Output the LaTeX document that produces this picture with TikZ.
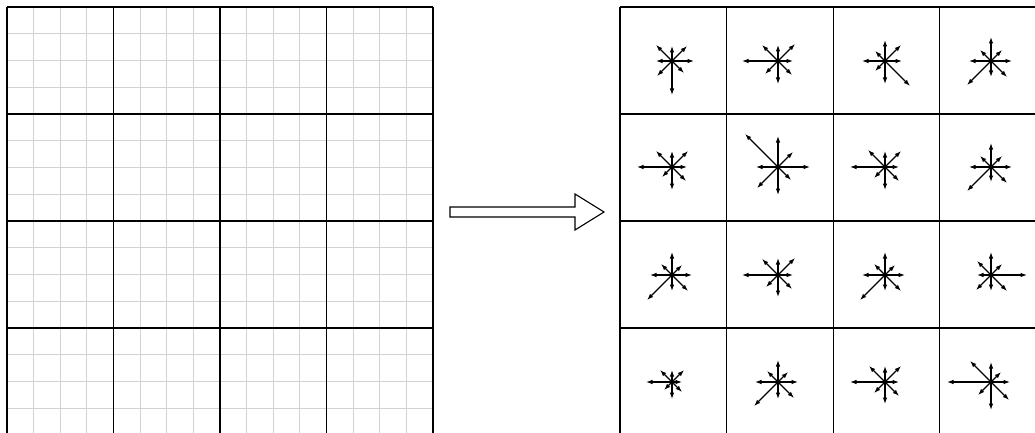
\documentclass[tikz,border=0pt]{standalone}
\usetikzlibrary{arrows.meta}

\begin{document}
\begin{tikzpicture}[
    x=1pt, y=-1pt,
    fine/.style={gray!35, line width=0.8pt},
    major/.style={black, line width=1.3pt},
    vel/.style={-{Latex[length=6.5pt,width=4.6pt]}, line width=1.2pt},
    bigarrow/.style={draw=black, line width=1.1pt, fill=white}
]

\useasboundingbox (0,0) rectangle (1035,433);
\clip (0,0) rectangle (1035,433);

\newcommand{\velstar}[9]{%
    \begin{scope}[shift={(#1)}]
        \draw[vel] (0,0) -- (#2,0);
        \draw[vel] (0,0) -- (#3,-#3);
        \draw[vel] (0,0) -- (0,-#4);
        \draw[vel] (0,0) -- (-#5,-#5);
        \draw[vel] (0,0) -- (-#6,0);
        \draw[vel] (0,0) -- (-#7,#7);
        \draw[vel] (0,0) -- (0,#8);
        \draw[vel] (0,0) -- (#9,#9);
    \end{scope}
}

% left: fine grid
\foreach \i in {0,...,16}{
    \draw[fine] ({7+26.625*\i},7) -- ({7+26.625*\i},440);
    \draw[fine] (7,{7+26.75*\i}) -- (433,{7+26.75*\i});
}
% left: coarse cells
\foreach \i in {0,...,4}{
    \draw[major] ({7+106.5*\i},7) -- ({7+106.5*\i},440);
    \draw[major] (7,{7+107*\i}) -- (433,{7+107*\i});
}

% hollow arrow
\draw[bigarrow] (450,207) -- (575,207) -- (575,194) -- (604,212)
    -- (575,230) -- (575,217) -- (450,217) -- cycle;

% right: coarse cells
\foreach \i in {0,...,4}{
    \draw[major] ({620+106.6*\i},7) -- ({620+106.6*\i},440);
    \draw[major] (620,{7+107*\i}) -- (1046,{7+107*\i});
}

% velocity sets: centre, E, NE, N, NW, W, SW, S, SE
\velstar{672,61}{22}{15}{15}{16}{16}{15}{34}{12}
\velstar{778,61}{15}{17}{16}{16}{36}{13}{23}{14}
\velstar{885,61}{17}{16}{21}{10}{23}{10}{23}{25}
\velstar{991,61}{21}{11}{24}{11}{22}{24}{16}{16}

\velstar{672,167}{15}{16}{16}{16}{35}{10}{23}{14}
\velstar{778,167}{32}{15}{31}{33}{22}{21}{28}{13}
\velstar{885,167}{14}{16}{16}{17}{35}{11}{23}{14}
\velstar{991,167}{21}{11}{24}{11}{22}{24}{15}{16}

\velstar{672,275}{20}{10}{23}{11}{22}{25}{16}{16}
\velstar{778,275}{15}{17}{17}{16}{36}{12}{22}{14}
\velstar{885,275}{20}{10}{23}{11}{23}{25}{16}{16}
\velstar{991,275}{36}{11}{23}{14}{14}{15}{16}{16}

\velstar{672,382}{10}{12}{12}{12}{26}{8}{17}{10}
\velstar{778,382}{20}{10}{22}{11}{23}{24}{17}{16}
\velstar{885,382}{14}{16}{16}{16}{35}{11}{22}{14}
\velstar{991,382}{19}{10}{20}{21}{44}{13}{28}{18}

\end{tikzpicture}
\end{document}
